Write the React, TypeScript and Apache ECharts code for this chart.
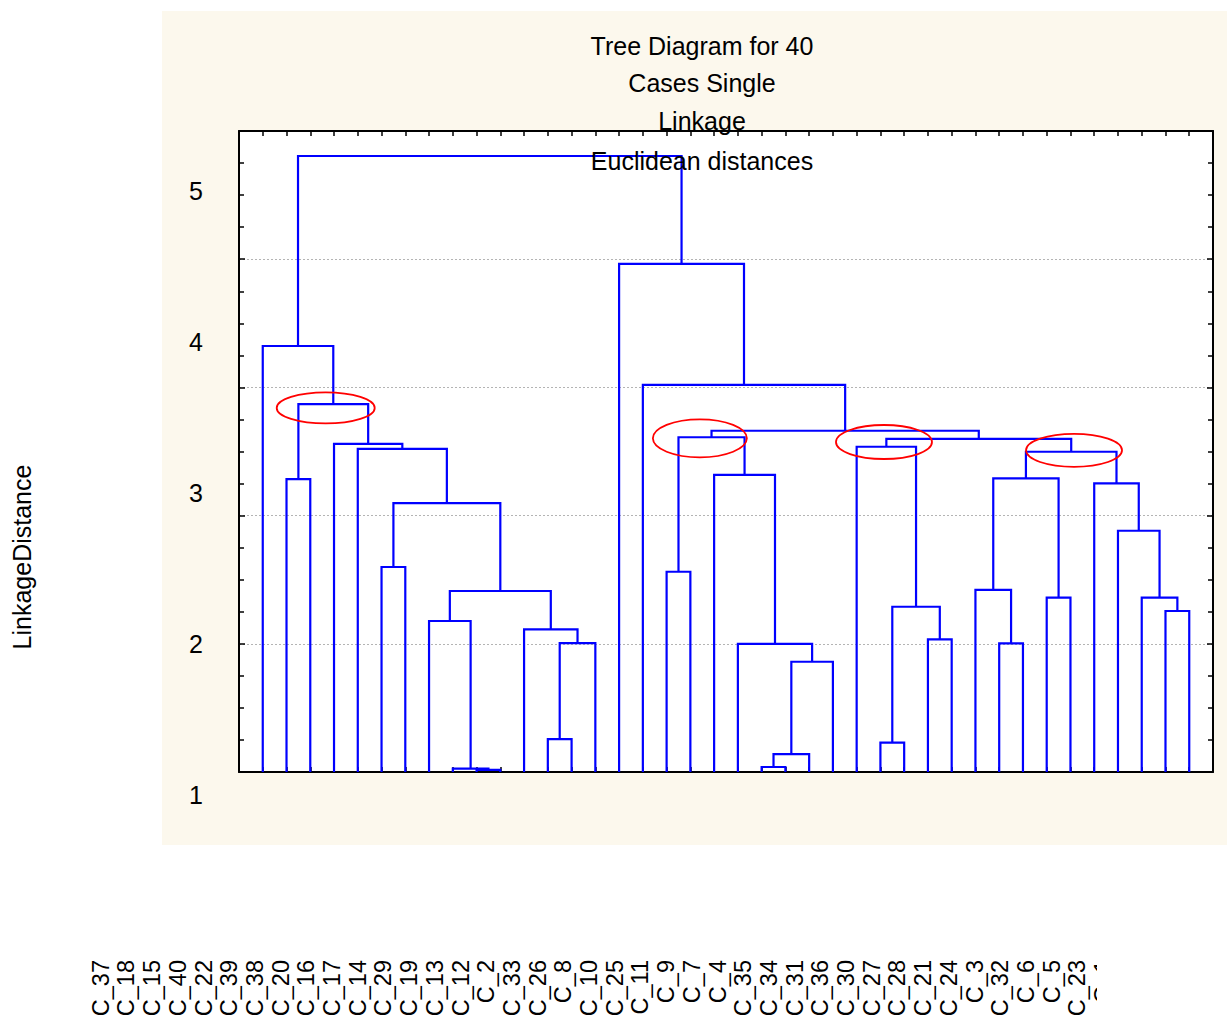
import React, { useEffect, useRef } from 'react';
import * as echarts from 'echarts';

// ---------- data ----------
const caseLabels = [
  'C_37', 'C_18', 'C_15', 'C_40', 'C_22', 'C_39', 'C_38', 'C_20', 'C_16', 'C_17',
  'C_14', 'C_29', 'C_19', 'C_13', 'C_12', 'C_2', 'C_33', 'C_26', 'C_8', 'C_10',
  'C_25', 'C_11', 'C_9', 'C_7', 'C_4', 'C_35', 'C_34', 'C_31', 'C_36', 'C_30',
  'C_27', 'C_28', 'C_21', 'C_24', 'C_3', 'C_32', 'C_6', 'C_5', 'C_23', 'C_1',
];

// linkage table: ids 0..39 are leaves (in drawing order), 40+k is merge k
const mergeLeft = [9, 8, 21, 42, 26, 12, 43, 20, 45, 31, 28, 11, 7, 38, 44, 33, 37, 52, 30, 17,
  5, 36, 60, 35, 1, 58, 19, 65, 4, 25, 3, 69, 59, 72, 64, 16, 0, 15, 76];
const mergeRight = [10, 40, 22, 23, 27, 13, 24, 46, 14, 32, 29, 48, 41, 39, 50, 34, 53, 51, 49, 18,
  6, 56, 57, 61, 2, 55, 47, 63, 62, 54, 68, 67, 66, 71, 70, 73, 74, 75, 77];
const mergeHeight = [1.016, 1.027, 1.039, 1.14, 1.229, 1.257, 1.86, 2.0, 2.006, 2.004, 2.035, 2.113,
  2.178, 2.256, 2.289, 2.36, 2.36, 2.412, 2.42, 2.562, 2.599, 2.882, 3.098, 3.252, 3.285, 3.291,
  3.317, 3.498, 3.52, 3.537, 3.559, 3.598, 3.611, 3.662, 3.87, 4.019, 4.323, 4.963, 5.805];

const yTickLabels = ['1', '2', '3', '4', '5'];
const titleLines = ['Tree Diagram for 40', 'Cases Single', 'Linkage', 'Euclidean distances'];
const yAxisTitle = 'LinkageDistance';

// highlighted merges (red ellipses), in data coordinates
const markX = [3.65, 19.4, 27.15, 35.15];
const markY = [3.84, 3.603, 3.574, 3.509];

// ---------- styles ----------
const FONT = 'Liberation Sans, Arial, Helvetica, sans-serif';
const markRx = [49, 47, 48, 48];
const markRy = [15.5, 19, 17, 16.5];
const titleY = [46, 83, 121, 160.5];

function buildLinks() {
  const n = caseLabels.length;
  const xs: number[] = [];
  const hs: number[] = [];
  for (let i = 0; i < n; i++) {
    xs.push(i + 1);
    hs.push(1);
  }
  const links: number[][] = [];
  for (let k = 0; k < mergeHeight.length; k++) {
    const a = mergeLeft[k];
    const b = mergeRight[k];
    const h = mergeHeight[k];
    links.push([xs[a], hs[a], xs[b], hs[b], h]);
    xs.push((xs[a] + xs[b]) / 2);
    hs.push(h);
  }
  return links;
}

export default function App() {
  const ref = useRef<HTMLDivElement>(null);
  useEffect(() => {
    if (!ref.current) return;
    const chart = echarts.init(ref.current, undefined, { renderer: 'svg' });
    const links = buildLinks();
    const n = caseLabels.length;

    const tickStyle = { color: '#000', width: 1.5 };
    const option: any = {
      animation: false,
      backgroundColor: '#ffffff',
      grid: [
        { left: 239, top: 131, width: 974, height: 641, show: true, backgroundColor: '#ffffff', borderWidth: 0 },
        { left: 239, top: 191, width: 10, height: 604, show: false },
        { left: 87.85, top: 900, width: 1028, height: 55, show: false },
      ],
      xAxis: [
        {
          gridIndex: 0, type: 'value', min: 0, max: n + 1, interval: 1, position: 'bottom',
          axisLine: { show: true, onZero: false, lineStyle: { color: '#000', width: 2 } },
          axisTick: { show: true, inside: true, length: 5, lineStyle: tickStyle },
          axisLabel: { show: false }, splitLine: { show: false },
        },
        {
          gridIndex: 0, type: 'value', min: 0, max: n + 1, interval: 1, position: 'top',
          axisLine: { show: true, onZero: false, lineStyle: { color: '#000', width: 2 } },
          axisTick: { show: true, inside: true, length: 5, lineStyle: tickStyle },
          axisLabel: { show: false }, splitLine: { show: false },
        },
        { gridIndex: 1, type: 'value', show: false },
        {
          gridIndex: 2, type: 'category', data: caseLabels, boundaryGap: true,
          axisLine: { show: false }, axisTick: { show: false }, splitLine: { show: false },
          axisLabel: { interval: 0, rotate: 90, margin: 5, fontSize: 23.5, color: '#000', fontFamily: FONT },
        },
      ],
      yAxis: [
        {
          gridIndex: 0, type: 'value', min: 1, max: 6, interval: 1, position: 'left',
          axisLine: { show: true, onZero: false, lineStyle: { color: '#000', width: 2 } },
          axisTick: { show: true, inside: true, length: 6, lineStyle: tickStyle },
          minorTick: { show: true, splitNumber: 4, length: 5, lineStyle: tickStyle },
          axisLabel: { show: false },
          splitLine: { show: true, lineStyle: { color: '#b4b4b4', type: [2, 2], width: 1 } },
        },
        {
          gridIndex: 0, type: 'value', min: 1, max: 6, interval: 1, position: 'right',
          axisLine: { show: true, onZero: false, lineStyle: { color: '#000', width: 2 } },
          axisTick: { show: true, inside: true, length: 6, lineStyle: tickStyle },
          minorTick: { show: true, splitNumber: 4, length: 5, lineStyle: tickStyle },
          axisLabel: { show: false }, splitLine: { show: false },
        },
        {
          gridIndex: 1, type: 'value', min: 1, max: yTickLabels.length, interval: 1, position: 'left',
          axisLine: { show: false }, axisTick: { show: false }, splitLine: { show: false },
          axisLabel: {
            margin: 36, fontSize: 25, color: '#000', fontFamily: FONT,
            formatter: (v: number) => yTickLabels[Math.round(v) - 1] ?? '',
          },
        },
        { gridIndex: 2, type: 'value', show: false },
      ],
      series: [
        {
          type: 'custom',
          coordinateSystem: 'cartesian2d',
          xAxisIndex: 0,
          yAxisIndex: 0,
          clip: false,
          encode: { x: [0, 2], y: [1, 3, 4] },
          data: links,
          z: 5,
          renderItem: (_params: any, api: any) => {
            const xa = api.value(0), ya = api.value(1), xb = api.value(2), yb = api.value(3), h = api.value(4);
            const p1 = api.coord([xa, ya]);
            const p2 = api.coord([xa, h]);
            const p3 = api.coord([xb, h]);
            const p4 = api.coord([xb, yb]);
            return {
              type: 'polyline',
              shape: { points: [p1, p2, p3, p4] },
              style: { stroke: '#0000ff', lineWidth: 2.2, fill: null },
            };
          },
        },
        {
          type: 'custom',
          coordinateSystem: 'cartesian2d',
          xAxisIndex: 0,
          yAxisIndex: 0,
          clip: false,
          encode: { x: 0, y: 1 },
          data: markX.map((x, i) => [x, markY[i]]),
          z: 6,
          renderItem: (params: any, api: any) => {
            const c = api.coord([api.value(0), api.value(1)]);
            const i = params.dataIndex;
            return {
              type: 'ellipse',
              shape: { cx: c[0], cy: c[1], rx: markRx[i], ry: markRy[i] },
              style: { stroke: '#ff0000', lineWidth: 1.8, fill: null },
            };
          },
        },
      ],
      graphic: [
        {
          type: 'rect', z: -10, silent: true,
          shape: { x: 162, y: 11, width: 1100, height: 834 },
          style: { fill: '#fcf8ed' },
        },
        ...titleLines.map((t, i) => ({
          type: 'text', z: 100, silent: true, x: 702, y: titleY[i],
          style: { text: t, fontSize: 25, fontFamily: FONT, fill: '#000', align: 'center', verticalAlign: 'middle' },
        })),
        {
          type: 'text', z: 100, silent: true, x: 22, y: 557, rotation: Math.PI / 2,
          style: { text: yAxisTitle, fontSize: 25, fontFamily: FONT, fill: '#000', align: 'center', verticalAlign: 'middle' },
        },
        {
          type: 'rect', z: 100, silent: true,
          shape: { x: 1097, y: 880, width: 140, height: 140 },
          style: { fill: '#ffffff' },
        },
      ],
    };
    chart.setOption(option);
    return () => chart.dispose();
  }, []);
  return (
    <div
      ref={ref}
      style={{ position: 'absolute', left: 0, top: 0, width: 1227, height: 1020, background: '#fff' }}
    />
  );
}
